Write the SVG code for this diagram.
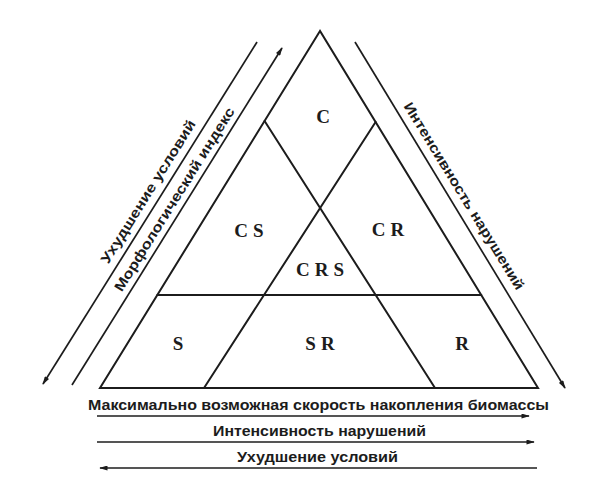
<svg xmlns="http://www.w3.org/2000/svg" width="592" height="480" viewBox="0 0 592 480">
<style>
.ln{fill:none;stroke:#1c1c1c;stroke-width:2;stroke-linecap:round;stroke-linejoin:miter}
.ar{fill:none;stroke:#1c1c1c;stroke-width:1.7}
.lab{font-family:"Liberation Serif",serif;font-weight:bold;font-size:19px;fill:#1c1c1c;text-anchor:middle;letter-spacing:5px}
.cap{font-family:"Liberation Sans",Arial,sans-serif;font-weight:bold;font-size:14px;fill:#1c1c1c;text-anchor:middle}
.bot{font-family:"Liberation Sans",Arial,sans-serif;font-weight:bold;font-size:15px;fill:#1c1c1c;text-anchor:middle}
</style>
<defs>
<marker id="ah" viewBox="0 0 10 6" refX="9" refY="3" markerWidth="9" markerHeight="5" markerUnits="userSpaceOnUse" orient="auto-start-reverse">
<path d="M0,0 L10,3 L0,6 z" fill="#1c1c1c"/>
</marker>
</defs>
<rect width="592" height="480" fill="#ffffff"/>
<g id="triangle">
<polygon class="ln" points="320,31 100,388 538,388"/>
<line class="ln" x1="157.3" y1="295" x2="481.3" y2="295"/>
<line class="ln" x1="264.6" y1="121" x2="435" y2="388"/>
<line class="ln" x1="375.6" y1="122" x2="204" y2="388"/>
</g>
<g id="node-C"><text class="lab" x="325.5" y="123">C</text></g>
<g id="node-CS"><text class="lab" x="251.5" y="236.5">CS</text></g>
<g id="node-CR"><text class="lab" x="390.5" y="235.5">CR</text></g>
<g id="node-CRS"><text class="lab" x="322.5" y="275.5">CRS</text></g>
<g id="node-S"><text class="lab" x="180.5" y="349.5">S</text></g>
<g id="node-SR"><text class="lab" x="322.5" y="349.5">SR</text></g>
<g id="node-R"><text class="lab" x="464.5" y="349.5">R</text></g>
<g id="connectors">
<line class="ar" x1="257" y1="42" x2="43" y2="384" marker-end="url(#ah)"/>
<line class="ar" x1="72" y1="385" x2="282" y2="48" marker-end="url(#ah)"/>
<line class="ar" x1="355" y1="42" x2="565" y2="388" marker-end="url(#ah)"/>
<line class="ar" x1="97" y1="416" x2="529" y2="416" marker-end="url(#ah)"/>
<line class="ar" x1="97" y1="442" x2="534" y2="442" marker-end="url(#ah)"/>
<line class="ar" x1="537" y1="468" x2="100" y2="468" marker-end="url(#ah)"/>
</g>
<g id="labels">
<text class="cap" transform="translate(148,191.5) rotate(-58)" x="0" y="5" textLength="166" lengthAdjust="spacingAndGlyphs">Ухудшение условий</text>
<text class="cap" transform="translate(174.2,199.2) rotate(-58)" x="0" y="5" textLength="214" lengthAdjust="spacingAndGlyphs">Морфологический индекс</text>
<text class="cap" transform="translate(464.2,195.8) rotate(58.5)" x="0" y="5" textLength="217" lengthAdjust="spacingAndGlyphs">Интенсивность нарушений</text>
<text class="bot" x="318.5" y="410" textLength="461" lengthAdjust="spacingAndGlyphs">Максимально возможная скорость накопления биомассы</text>
<text class="bot" x="319.5" y="436" textLength="213" lengthAdjust="spacingAndGlyphs">Интенсивность нарушений</text>
<text class="bot" x="317.5" y="462" textLength="161" lengthAdjust="spacingAndGlyphs">Ухудшение условий</text>
</g>
</svg>
